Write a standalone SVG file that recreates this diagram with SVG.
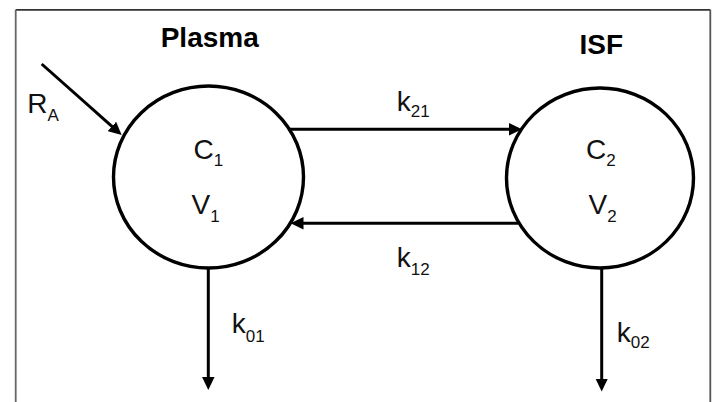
<svg xmlns="http://www.w3.org/2000/svg" width="712" height="402" viewBox="0 0 712 402">
<defs>
<style>
.t{font-family:"Liberation Sans",Arial,sans-serif;font-size:28px;fill:#111}
.b{font-weight:bold;fill:#000}
.s{font-size:17px}
.node{fill:none;stroke:#000;stroke-width:3.4}
.conn{fill:none;stroke:#000;stroke-width:3}
</style>
<marker id="ah" markerUnits="userSpaceOnUse" markerWidth="14" markerHeight="13" refX="3" refY="6.25" orient="auto">
<path d="M0,0 L13,6.25 L0,12.5 Z" fill="#000"/>
</marker>
</defs>
<rect width="712" height="402" fill="#fff"/>
<g id="frame" fill="none">
<line x1="15.7" y1="9.8" x2="710.3" y2="9.8" stroke="#333" stroke-width="1.8"/>
<line x1="15.7" y1="9.8" x2="15.7" y2="402" stroke="#666" stroke-width="1.8"/>
<line x1="710.3" y1="9.8" x2="710.3" y2="402" stroke="#555" stroke-width="1.8"/>
</g>
<g id="plasma">
<ellipse class="node" cx="208.5" cy="177" rx="95" ry="91"/>
<text class="t b" x="160.7" y="46.7">Plasma</text>
<text class="t" x="193.5" y="159">C<tspan class="s" dy="7">1</tspan></text>
<text class="t" x="191.5" y="214">V<tspan class="s" dy="8">1</tspan></text>
</g>
<g id="isf">
<ellipse class="node" cx="600" cy="178" rx="93.5" ry="90"/>
<text class="t b" x="579.5" y="54">ISF</text>
<text class="t" x="586" y="159">C<tspan class="s" dy="7">2</tspan></text>
<text class="t" x="588.6" y="214">V<tspan class="s" dy="8">2</tspan></text>
</g>
<g id="connectors">
<line class="conn" x1="41.7" y1="64" x2="114.2" y2="128.4" marker-end="url(#ah)"/>
<text class="t" x="27.3" y="113.3">R<tspan class="s" dy="7.7">A</tspan></text>
<line class="conn" x1="289" y1="129.3" x2="512" y2="129.3" marker-end="url(#ah)"/>
<text class="t" x="396.7" y="110.7">k<tspan class="s" dy="6.6">21</tspan></text>
<line class="conn" x1="518" y1="223.3" x2="300.5" y2="223.3" marker-end="url(#ah)"/>
<text class="t" x="396.7" y="266.7">k<tspan class="s" dy="8.3">12</tspan></text>
<line class="conn" x1="208.3" y1="267" x2="208.3" y2="380" marker-end="url(#ah)"/>
<text class="t" x="231.7" y="333.3">k<tspan class="s" dy="8.4">01</tspan></text>
<line class="conn" x1="601.7" y1="267" x2="601.7" y2="381.5" marker-end="url(#ah)"/>
<text class="t" x="616.7" y="341.7">k<tspan class="s" dy="6.6">02</tspan></text>
</g>
</svg>
